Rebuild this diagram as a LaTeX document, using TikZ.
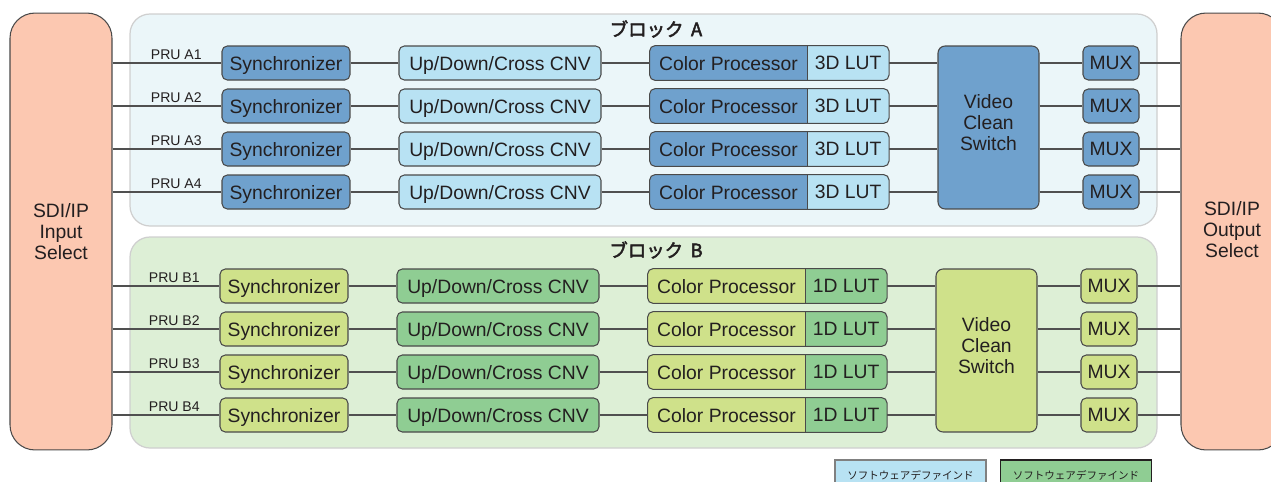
\documentclass[tikz,border=0pt]{standalone}
\usepackage{fontspec}
\setmainfont{Liberation Sans}
\newfontfamily\jpfont[AutoFakeBold=2.5]{Noto Sans CJK JP}
\usetikzlibrary{positioning}

\pgfdeclarelayer{blocklayer}
\pgfdeclarelayer{filllayer}
\pgfsetlayers{blocklayer,filllayer,main}

\definecolor{peachC}{HTML}{FCC8B1}
\definecolor{blueD}{HTML}{6FA1CD}
\definecolor{blueL}{HTML}{B8E2F3}
\definecolor{greenY}{HTML}{CFE18A}
\definecolor{greenM}{HTML}{8FCD93}
\definecolor{bgA}{HTML}{EBF6F9}
\definecolor{bgB}{HTML}{DDEFD6}
\definecolor{blockEdge}{HTML}{CFCFCF}
\definecolor{edgeC}{HTML}{4A4A4A}
\definecolor{lineC}{HTML}{505050}
\definecolor{txtC}{HTML}{231F20}

\begin{document}
\begin{tikzpicture}[x=0.02cm, y=-0.02cm,
  box/.style={draw=edgeC, line width=0.6pt, rounded corners=3pt, text=txtC, inner sep=0pt,
    minimum height=0.68cm, text depth=0pt, font=\fontsize{11}{13}\selectfont},
  cellbox/.style={text=txtC, inner sep=0pt, minimum height=0.68cm, text depth=0pt,
    font=\fontsize{11}{13}\selectfont},
  sel/.style={draw=edgeC, line width=0.6pt, fill=peachC, rounded corners=0.5cm, text=txtC,
    minimum width=2.04cm, minimum height=8.74cm, align=center, font=\fontsize{11}{12}\selectfont},
  blockbg/.style={draw=blockEdge, line width=0.7pt, rounded corners=0.4cm},
  title/.style={text=txtC, inner sep=0pt, font=\jpfont\bfseries\fontsize{10.5}{12}\selectfont},
  pru/.style={text=txtC, inner sep=0pt, font=\fontsize{8}{9}\selectfont},
  link/.style={draw=lineC, line width=0.6pt},
  legend/.style={line width=0.6pt, text=txtC, inner sep=0pt, minimum width=3.02cm,
    minimum height=0.6cm, font=\jpfont\fontsize{6}{7}\selectfont},
]
  \useasboundingbox (0,0) rectangle (1271,481);

  % select boxes
  \node[sel] (insel) at (61,231.5) {SDI/IP\\Input\\Select};
  \node[sel, text depth=2.4pt] (outsel) at (1232,231.5) {SDI/IP\\Output\\Select};

  % block backgrounds
  \begin{pgfonlayer}{blocklayer}
    \draw[blockbg, fill=bgA] (130,14) rectangle (1157,226);
    \draw[blockbg, fill=bgB] (130,237) rectangle (1157,448);
  \end{pgfonlayer}
  \node[title] (titleA) at (656,29) {ブロック\hspace{0.4em}A};
  \node[title] (titleB) at (656,250) {ブロック\hspace{0.4em}B};

  \foreach \blk/\dx/\ybase/\dark/\light/\lutname in
      {A/0/63/blueD/blueL/3D, B/-2/286/greenY/greenM/1D} {
    \node[box, fill=\dark, minimum width=2.02cm, minimum height=3.26cm, align=center,
      rounded corners=4pt, text depth=6pt, font=\fontsize{11}{12}\selectfont]
      (vcs\blk) at (988.5+\dx,\ybase+64.5) {Video\\Clean\\Switch};
    \foreach \row in {1,...,4} {
      \pgfmathsetmacro{\yy}{\ybase+43*(\row-1)}
      \node[box, fill=\dark, minimum width=2.56cm] (sync\blk\row) at (286+\dx,\yy) {Synchronizer};
      \node[box, fill=\light, minimum width=4.04cm] (cnv\blk\row) at (500+\dx,\yy) {Up/Down/Cross CNV};
      \node[cellbox, minimum width=3.14cm] (cp\blk\row) at (728.5+\dx,\yy) {Color Processor};
      \node[cellbox, minimum width=1.62cm, right=0pt of cp\blk\row] (lut\blk\row) {\lutname{} LUT};
      \begin{pgfonlayer}{filllayer}
        \begin{scope}
          \clip[rounded corners=3pt] (cp\blk\row.south west) rectangle (lut\blk\row.north east);
          \fill[\dark] (cp\blk\row.south west) rectangle (cp\blk\row.north east);
          \fill[\light] (lut\blk\row.south west) rectangle (lut\blk\row.north east);
        \end{scope}
      \end{pgfonlayer}
      \draw[draw=edgeC, line width=0.6pt, rounded corners=3pt]
        (cp\blk\row.south west) rectangle (lut\blk\row.north east);
      \draw[draw=edgeC, line width=0.6pt] (cp\blk\row.north east) -- (cp\blk\row.south east);
      \node[box, fill=\dark, minimum width=1.12cm] (mux\blk\row) at (1111+\dx,\yy) {MUX};
      \node[pru, anchor=south east] (pru\blk\row) at (202+\dx,\yy-3.5) {PRU \blk\row};

      \draw[link] (insel.east |- sync\blk\row) -- (sync\blk\row);
      \draw[link] (sync\blk\row) -- (cnv\blk\row);
      \draw[link] (cnv\blk\row) -- (cp\blk\row);
      \draw[link] (lut\blk\row) -- (lut\blk\row -| vcs\blk.west);
      \draw[link] (vcs\blk.east |- mux\blk\row) -- (mux\blk\row);
      \draw[link] (mux\blk\row) -- (mux\blk\row -| outsel.west);
    }
  }

  % legend
  \node[legend, fill=blueL, draw=gray] (legSoft) at (910.5,475) {ソフトウェアデファインド};
  \node[legend, fill=greenM, draw=txtC] (legSoftB) at (1076,475) {ソフトウェアデファインド};
\end{tikzpicture}
\end{document}
